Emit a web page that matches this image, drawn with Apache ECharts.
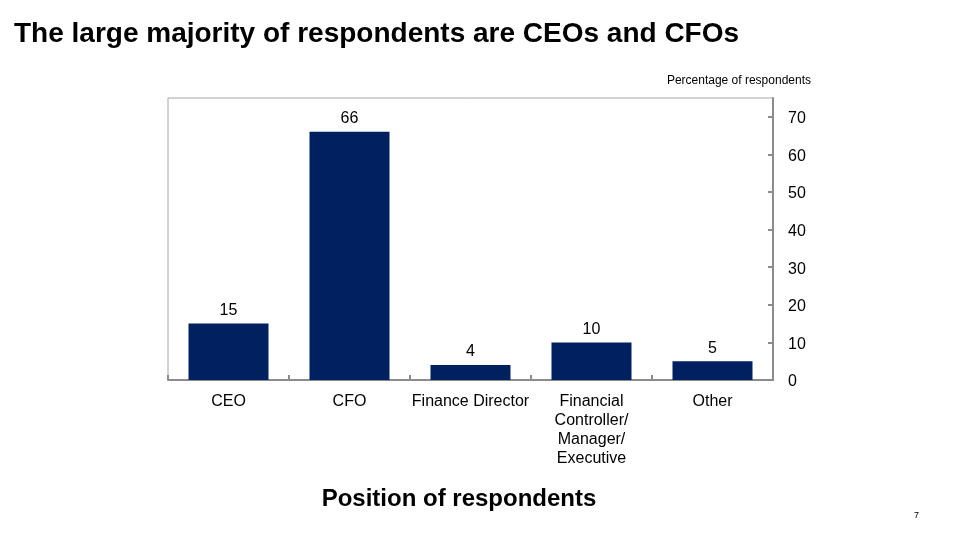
<!DOCTYPE html>
<html><head><meta charset="utf-8">
<script src="https://cdn.jsdelivr.net/npm/echarts@6/dist/echarts.min.js"></script>
<style>html,body{margin:0;padding:0;background:#fff}#c{width:960px;height:540px}</style>
</head><body><div id="c"></div>
<script>
const categories = ['CEO', 'CFO', 'Finance Director', 'Financial\nController/\nManager/\nExecutive', 'Other'];
const values = [15, 66, 4, 10, 5];
const yTicks = [0, 10, 20, 30, 40, 50, 60, 70];

const chart = echarts.init(document.getElementById('c'));
const F = "'Liberation Sans', Arial, sans-serif";
chart.setOption({
  animation: false,
  textStyle: { fontFamily: F },
  title: [
    { text: 'The large majority of respondents are CEOs and CFOs', left: 14, top: 20, padding: 0,
      textStyle: { fontFamily: F, fontSize: 28, fontWeight: 'bold', color: '#000' } },
    { text: 'Percentage of respondents', right: 149, top: 75, padding: 0,
      textStyle: { fontFamily: F, fontSize: 12, fontWeight: 'normal', color: '#000' } },
    { text: 'Position of respondents', left: 459, top: 487, padding: 0, textAlign: 'center',
      textStyle: { fontFamily: F, fontSize: 24, fontWeight: 'bold', color: '#000' } },
    { text: '7', left: 914, top: 511, padding: 0,
      textStyle: { fontFamily: F, fontSize: 9, fontWeight: 'normal', color: '#000' } }
  ],
  grid: { left: 168, right: 187, top: 98, bottom: 160, show: true, borderColor: '#a6a6a6', borderWidth: 1 },
  xAxis: {
    type: 'category', data: categories,
    axisLine: { show: true, lineStyle: { color: '#8c8c8c', width: 2 } },
    axisTick: { show: true, inside: true, length: 5, alignWithLabel: false, interval: 0, lineStyle: { color: '#8c8c8c', width: 2 } },
    axisLabel: { color: '#000', fontSize: 16, fontFamily: F, margin: 12, lineHeight: 19, interval: 0 }
  },
  yAxis: {
    type: 'value', position: 'right', min: 0, max: 75, interval: 10,
    axisLine: { show: true, lineStyle: { color: '#8c8c8c', width: 2 } },
    axisTick: { show: true, inside: true, length: 5, customValues: yTicks, lineStyle: { color: '#8c8c8c', width: 2 } },
    splitLine: { show: false },
    axisLabel: { color: '#000', fontSize: 16, fontFamily: F, margin: 15, customValues: yTicks,
      formatter: '{a|{value}}',
      rich: { a: { fontSize: 16, fontFamily: F, color: '#000', padding: [4, 0, 0, 0] } } }
  },
  series: [{
    type: 'bar', data: values, barWidth: 80,
    itemStyle: { color: '#002060' },
    label: { show: true, position: 'top', distance: 5, color: '#000', fontSize: 16, fontFamily: F }
  }]
});
</script></body></html>
